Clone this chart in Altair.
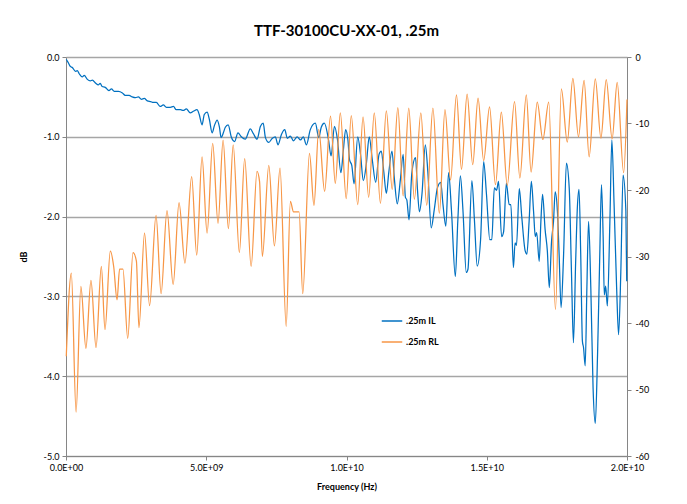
import altair as alt
import pandas as pd

# ---- data ----
il_freq_ghz = [0.01,0.08,0.16,0.22,0.34,0.40,0.47,0.58,0.65,0.76,
0.87,0.94,1.06,1.15,1.22,1.29,1.40,1.53,1.62,1.72,
1.87,2.01,2.11,2.25,2.36,2.48,2.58,2.69,2.79,2.90,
3.02,3.11,3.22,3.36,3.47,3.58,3.72,3.83,3.93,4.08,
4.18,4.29,4.43,4.54,4.67,4.75,4.85,4.93,5.03,5.11,
5.21,5.29,5.39,5.47,5.53,5.61,5.68,5.78,5.90,6.01,
6.13,6.25,6.39,6.57,6.68,6.81,6.93,7.03,7.11,7.23,
7.35,7.46,7.56,7.68,7.80,7.89,8.00,8.11,8.24,8.36,
8.46,8.57,8.71,8.89,9.01,9.10,9.21,9.36,9.45,9.57,
9.68,9.80,9.89,9.97,10.05,10.11,10.19,10.27,10.40,10.50,
10.60,10.71,10.81,10.92,11.04,11.16,11.24,11.33,11.42,11.51,
11.62,11.71,11.81,11.92,12.02,12.10,12.15,12.23,12.33,12.46,
12.53,12.60,12.69,12.81,12.90,13.02,13.13,13.24,13.36,13.44,
13.54,13.64,13.74,13.88,13.97,14.06,14.15,14.27,14.33,14.47,
14.56,14.66,14.78,14.89,14.99,15.11,15.18,15.27,15.35,15.42,
15.53,15.60,15.70,15.80,15.86,15.95,16.01,16.06,16.16,16.25,
16.37,16.43,16.51,16.59,16.67,16.73,16.78,16.87,16.93,16.99,
17.08,17.16,17.23,17.31,17.38,17.44,17.52,17.58,17.65,17.74,
17.84,17.94,18.02,18.09,18.17,18.23,18.29,18.35,18.41,18.45,
18.51,18.57,18.63,18.71,18.79,18.87,18.95,19.03,19.09,19.15,
19.19,19.24,19.30,19.39,19.46,19.54,19.63,19.70,19.78,19.86,
19.96,19.99]

il_db = [-0.03,-0.07,-0.12,-0.13,-0.18,-0.17,-0.21,-0.25,-0.23,-0.28,
-0.30,-0.29,-0.33,-0.35,-0.33,-0.37,-0.38,-0.42,-0.40,-0.43,
-0.43,-0.45,-0.48,-0.48,-0.50,-0.51,-0.50,-0.53,-0.52,-0.55,
-0.56,-0.57,-0.57,-0.62,-0.60,-0.63,-0.63,-0.62,-0.66,-0.66,
-0.67,-0.65,-0.70,-0.68,-0.66,-0.72,-0.85,-0.72,-0.69,-0.78,
-0.95,-0.86,-0.79,-0.88,-1.01,-0.95,-0.88,-0.85,-1.01,-1.06,
-0.95,-1.00,-1.03,-0.90,-0.96,-1.03,-0.87,-0.83,-1.01,-1.07,
-1.02,-1.00,-1.10,-0.97,-0.91,-1.02,-0.99,-1.05,-1.00,-1.04,
-1.00,-1.10,-0.91,-0.83,-1.01,-0.88,-0.83,-1.04,-1.24,-0.87,
-1.04,-1.45,-1.16,-0.91,-1.04,-1.29,-1.36,-1.59,-1.00,-1.22,
-1.55,-1.33,-1.00,-1.29,-1.57,-1.22,-1.18,-1.44,-1.71,-1.44,
-1.18,-1.54,-1.84,-1.54,-1.22,-1.76,-1.79,-2.04,-1.45,-1.26,
-1.66,-1.94,-1.72,-1.10,-1.44,-2.14,-1.91,-1.64,-1.57,-1.85,
-2.12,-1.45,-1.91,-2.75,-2.04,-1.49,-1.91,-2.70,-2.66,-1.55,
-2.04,-2.62,-2.29,-1.31,-1.72,-2.29,-2.29,-1.64,-1.67,-1.56,
-2.25,-2.19,-1.58,-1.85,-1.85,-2.64,-2.33,-2.36,-1.65,-2.01,
-2.43,-2.47,-2.06,-1.56,-1.94,-2.25,-2.20,-2.56,-2.06,-1.72,
-2.16,-2.43,-2.89,-2.31,-2.06,-1.69,-1.94,-2.47,-3.14,-2.47,
-1.33,-1.64,-2.69,-3.58,-2.56,-1.89,-1.66,-2.47,-3.56,-3.64,
-3.87,-2.89,-2.06,-2.89,-4.14,-4.59,-3.73,-2.47,-1.60,-2.26,
-2.98,-2.87,-3.12,-2.06,-1.04,-1.85,-2.89,-3.48,-2.69,-1.48,
-1.93,-2.81]

rl_freq_ghz = [0.01,0.19,0.36,0.53,0.71,0.89,1.07,1.26,1.39,1.58,
1.70,1.82,1.91,2.03,2.20,2.39,2.51,2.60,2.80,2.98,
3.21,3.39,3.60,3.82,4.03,4.24,4.48,4.66,4.85,5.03,
5.23,5.42,5.60,5.79,5.96,6.18,6.37,6.60,6.81,6.90,
7.00,7.23,7.43,7.63,7.85,8.00,8.11,8.31,8.44,8.68,
8.84,9.01,9.22,9.43,9.60,9.78,9.99,10.17,10.40,10.59,
10.79,10.99,11.21,11.42,11.63,11.83,12.02,12.22,12.42,12.65,
12.86,13.08,13.31,13.51,13.71,13.92,14.10,14.30,14.50,14.69,
14.89,15.10,15.31,15.52,15.73,15.99,16.18,16.41,16.58,16.80,
17.00,17.21,17.45,17.66,17.87,18.07,18.27,18.47,18.65,18.87,
19.07,19.26,19.47,19.65,19.88,20.00]

rl_db = [-45.0,-32.5,-53.4,-34.5,-43.8,-33.6,-43.7,-31.5,-41.0,-29.2,
-31.5,-36.5,-31.9,-31.9,-42.3,-29.4,-30.7,-40.7,-26.5,-37.4,
-23.8,-35.6,-23.1,-34.2,-21.9,-31.0,-18.0,-29.8,-15.0,-26.5,
-13.0,-25.0,-12.5,-25.8,-13.2,-29.4,-15.3,-31.5,-17.2,-18.7,
-30.0,-16.3,-28.4,-16.7,-40.5,-21.7,-23.3,-23.3,-35.6,-14.5,
-22.3,-10.9,-20.2,-8.9,-19.0,-8.4,-21.3,-8.8,-22.2,-9.0,
-21.1,-8.4,-22.0,-8.1,-19.9,-7.6,-20.9,-7.7,-21.4,-8.4,
-22.3,-7.7,-23.5,-7.9,-18.5,-5.7,-16.9,-5.6,-16.2,-6.2,
-15.6,-7.5,-19.2,-8.3,-19.3,-6.7,-18.2,-5.7,-17.3,-6.8,
-12.4,-6.8,-38.0,-4.8,-12.8,-3.2,-12.0,-3.5,-15.0,-3.3,
-12.2,-3.4,-12.3,-3.8,-17.4,-6.4]

series_names = [".25m IL", ".25m RL"]
series_colors = ["#0070C0", "#F79646"]
x_tick_values = [0, 5e9, 1e10, 1.5e10, 2e10]
x_tick_labels = ["0.0E+00", "5.0E+09", "1.0E+10", "1.5E+10", "2.0E+10"]
left_tick_values = [0, -1, -2, -3, -4, -5]
right_tick_values = [0, -10, -20, -30, -40, -50, -60]
title_text = "TTF-30100CU-XX-01, .25m"

FONT = "Lato"
AXIS_GRAY = "#868686"

il_df = pd.DataFrame({"freq": [f * 1e9 for f in il_freq_ghz], "value": il_db,
                      "series": series_names[0], "order": range(len(il_db))})
rl_df = pd.DataFrame({"freq": [f * 1e9 for f in rl_freq_ghz], "value": rl_db,
                      "series": series_names[1], "order": range(len(rl_db))})

x_label_expr = " : ".join(
    f"datum.value == {int(v)} ? '{l}'" for v, l in zip(x_tick_values, x_tick_labels)
) + " : ''"

color = alt.Color(
    "series:N",
    scale=alt.Scale(domain=series_names, range=series_colors),
    legend=alt.Legend(
        title=None, orient="none", legendX=315, legendY=253,
        symbolType="stroke", symbolSize=420, symbolStrokeWidth=1.5,
        labelFont=FONT, labelFontSize=9, labelFontWeight="bold", labelColor="#000000",
        rowPadding=5, labelOffset=3,
    ),
)

x_enc = alt.X(
    "freq:Q",
    scale=alt.Scale(domain=[0, 2e10], nice=False, zero=False),
    axis=alt.Axis(
        values=x_tick_values, labelExpr=x_label_expr, title="Frequency (Hz)",
        titleFont=FONT, titleFontSize=9, titleFontWeight="bold", titleColor="#000000",
        labelFont=FONT, labelFontSize=9, labelColor="#000000", labelFlush=False,
        grid=False, domainColor=AXIS_GRAY, tickColor=AXIS_GRAY, tickSize=4,
        labelPadding=3, titlePadding=10,
    ),
)

il_layer = alt.Chart(il_df).mark_line(interpolate="monotone", strokeWidth=1.25).encode(
    x=x_enc,
    y=alt.Y(
        "value:Q",
        scale=alt.Scale(domain=[-5, 0], nice=False, zero=False),
        axis=alt.Axis(
            values=left_tick_values,
            labelExpr="replace(format(datum.value, '.1f'), '\u2212', '-')",
            title="dB", titleFont=FONT, titleFontSize=9, titleFontWeight="bold",
            titleColor="#000000", titlePadding=15,
            labelFont=FONT, labelFontSize=9, labelColor="#000000",
            grid=True, gridColor="#A6A6A6", gridWidth=1.5,
            domainColor=AXIS_GRAY, tickColor=AXIS_GRAY, tickSize=4, labelPadding=3,
        ),
    ),
    color=color,
    order="order:Q",
)

rl_layer = alt.Chart(rl_df).mark_line(interpolate="monotone", strokeWidth=1.25).encode(
    x=x_enc,
    y=alt.Y(
        "value:Q",
        scale=alt.Scale(domain=[-60, 0], nice=False, zero=False),
        axis=alt.Axis(
            orient="right", values=right_tick_values,
            labelExpr="replace(format(datum.value, 'd'), '\u2212', '-')",
            title=None, labelFont=FONT, labelFontSize=9, labelColor="#000000",
            grid=False, domainColor=AXIS_GRAY, tickColor=AXIS_GRAY, tickSize=4,
            labelPadding=4,
        ),
    ),
    color=color,
    order="order:Q",
)

chart = (
    alt.layer(il_layer, rl_layer)
    .resolve_scale(y="independent")
    .properties(
        width=561, height=399,
        autosize=alt.AutoSizeParams(type="none"),
        padding={"left": 58, "top": 49, "right": 50, "bottom": 40},
        title=alt.TitleParams(
            title_text, font=FONT, fontSize=15, fontWeight="bold", color="#000000",
            anchor="middle", offset=14,
        ),
    )
    .configure_view(stroke=None)
    .configure(background="white")
)

chart.save("out.html", embed_options={"renderer": "svg", "actions": False})
